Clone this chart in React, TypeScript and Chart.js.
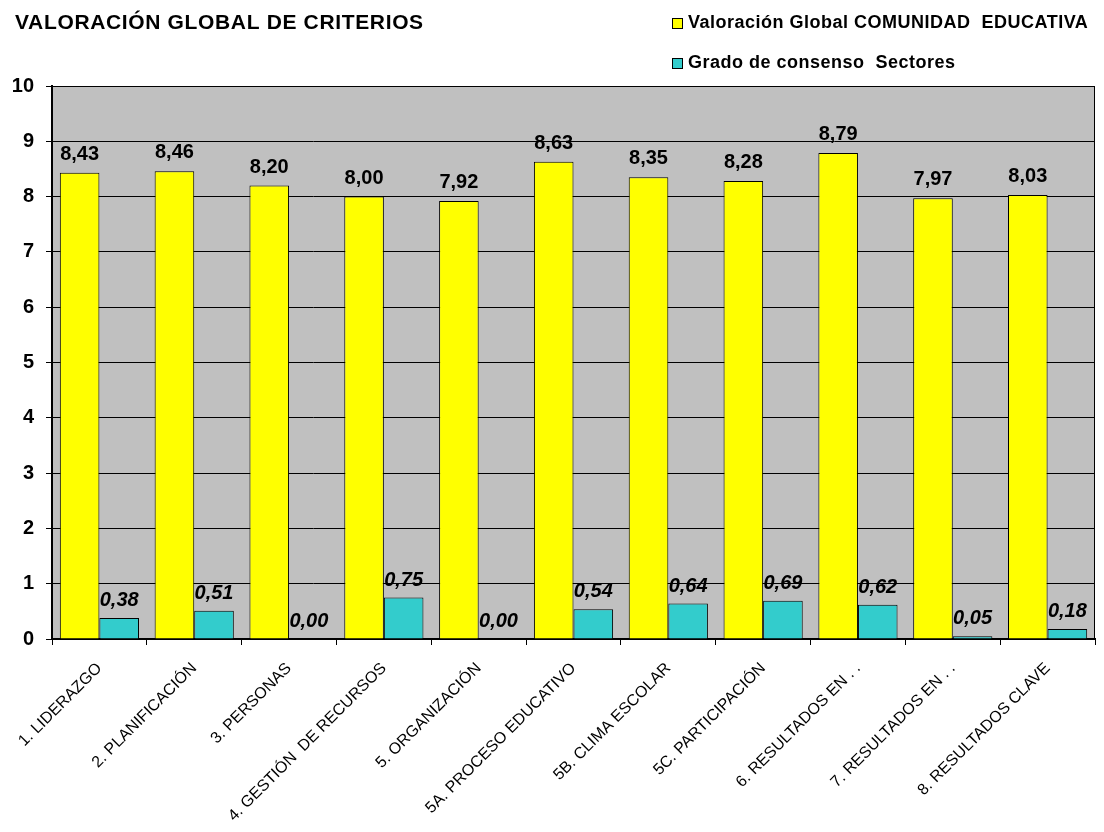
import React, { useEffect, useRef } from "react";
import { Chart, registerables } from "chart.js";

Chart.register(...registerables);

const chartTitle = "VALORACIÓN GLOBAL DE CRITERIOS";
const categories = [
  "1. LIDERAZGO",
  "2. PLANIFICACIÓN",
  "3. PERSONAS",
  "4. GESTIÓN  DE RECURSOS",
  "5. ORGANIZACIÓN",
  "5A. PROCESO EDUCATIVO",
  "5B. CLIMA ESCOLAR",
  "5C. PARTICIPACIÓN",
  "6. RESULTADOS EN . .",
  "7. RESULTADOS EN . .",
  "8. RESULTADOS CLAVE",
];
const seriesNames = ["Valoración Global COMUNIDAD  EDUCATIVA", "Grado de consenso  Sectores"];
const globalValues = [8.43, 8.46, 8.2, 8.0, 7.92, 8.63, 8.35, 8.28, 8.79, 7.97, 8.03];
const consensusValues = [0.38, 0.51, 0.0, 0.75, 0.0, 0.54, 0.64, 0.69, 0.62, 0.05, 0.18];
const yMin = 0;
const yMax = 10;
const yStep = 1;

const seriesColors = ["#FFFF00", "#33CCCC"];
const FONT = "Arial, 'Liberation Sans', sans-serif";

const fmt = (v: number) => v.toFixed(2).replace(".", ",");

const decorPlugin = {
  id: "decor",
  beforeDraw(chart: any) {
    const { ctx, chartArea } = chart;
    ctx.save();
    ctx.fillStyle = "#C0C0C0";
    ctx.fillRect(chartArea.left, chartArea.top, chartArea.right - chartArea.left, chartArea.bottom - chartArea.top);
    ctx.restore();
  },
  afterDatasetsDraw(chart: any) {
    const { ctx, chartArea } = chart;
    ctx.save();
    // top and right border of plot area
    ctx.strokeStyle = "#000";
    ctx.lineWidth = 1;
    ctx.beginPath();
    ctx.moveTo(chartArea.left, chartArea.top + 0.5);
    ctx.lineTo(chartArea.right - 0.5, chartArea.top + 0.5);
    ctx.lineTo(chartArea.right - 0.5, chartArea.bottom);
    ctx.stroke();

    // data labels
    ctx.fillStyle = "#000";
    ctx.textAlign = "center";
    ctx.textBaseline = "alphabetic";
    chart.data.datasets.forEach((ds: any, di: number) => {
      const meta = chart.getDatasetMeta(di);
      ctx.font = (di === 1 ? "italic " : "") + "bold 20px " + FONT;
      meta.data.forEach((el: any, i: number) => {
        const v = ds.data[i];
        ctx.fillText(fmt(v), el.x, el.y - (di === 0 ? 13 : 12));
      });
    });

    // title
    ctx.textAlign = "left";
    ctx.textBaseline = "middle";
    ctx.font = "bold 21px " + FONT;
    (ctx as any).letterSpacing = "0.65px";
    ctx.fillText(chartTitle, 15, 23);

    // legend
    ctx.font = "bold 18px " + FONT;
    (ctx as any).letterSpacing = "0.5px";
    const rows = [23, 63];
    seriesNames.forEach((name, i) => {
      const y = rows[i];
      ctx.fillStyle = seriesColors[i];
      ctx.fillRect(672, y - 5, 11, 11);
      ctx.strokeStyle = "#000";
      ctx.lineWidth = 1;
      ctx.strokeRect(672.5, y - 4.5, 10, 10);
      ctx.fillStyle = "#000";
      ctx.fillText(name, 688, y);
    });
    (ctx as any).letterSpacing = "0px";
    ctx.restore();
  },
};

export default function App() {
  const ref = useRef<HTMLCanvasElement>(null);
  useEffect(() => {
    if (!ref.current) return;
    const chart = new Chart(ref.current, {
      type: "bar",
      data: {
        labels: categories,
        datasets: [
          {
            label: seriesNames[0],
            data: globalValues,
            backgroundColor: seriesColors[0],
            borderColor: "#000",
            borderWidth: 1,
            categoryPercentage: 0.835,
            barPercentage: 1,
          },
          {
            label: seriesNames[1],
            data: consensusValues,
            backgroundColor: seriesColors[1],
            borderColor: "#000",
            borderWidth: 1,
            categoryPercentage: 0.835,
            barPercentage: 1,
          },
        ],
      },
      options: {
        animation: false,
        responsive: false,
        events: [],
        layout: { padding: { top: 86, right: 9, left: 0, bottom: 0 } },
        plugins: {
          legend: { display: false },
          title: { display: false },
          tooltip: { enabled: false },
        },
        scales: {
          x: {
            offset: true,
            grid: {
              display: true,
              offset: true,
              drawOnChartArea: false,
              drawTicks: true,
              tickLength: 6,
              color: "#000",
              lineWidth: 1,
            },
            border: { display: true, color: "#000", width: 2 },
            ticks: {
              color: "#000",
              font: { family: FONT, size: 16 },
              maxRotation: 45,
              minRotation: 45,
              autoSkip: false,
              padding: 14,
            },
            afterFit(scale: any) {
              scale.height = 193;
            },
          },
          y: {
            min: yMin,
            max: yMax,
            grid: {
              color: "#000",
              lineWidth: 1,
              drawTicks: true,
              tickLength: 6,
            },
            border: { display: true, color: "#000", width: 2 },
            ticks: {
              stepSize: yStep,
              color: "#000",
              font: { family: FONT, size: 20, weight: "bold" },
              padding: 12,
            },
            afterFit(scale: any) {
              scale.width = 52;
            },
          },
        },
      },
      plugins: [decorPlugin],
    });
    return () => chart.destroy();
  }, []);
  return (
    <div style={{ position: "absolute", left: 0, top: 0, width: 1104, height: 832, background: "#fff" }}>
      <canvas ref={ref} width={1104} height={832} style={{ display: "block" }} />
    </div>
  );
}
